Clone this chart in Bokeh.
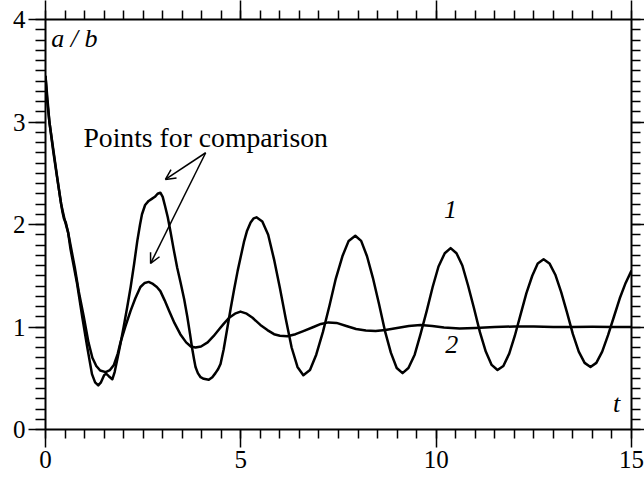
from bokeh.plotting import figure
from bokeh.models import LinearAxis, FixedTicker, Label, Arrow, OpenHead, Range1d
from bokeh.embed import file_html
from bokeh.resources import INLINE

# ---- data ----
t1 = [0, 0.04, 0.1, 0.2, 0.3, 0.38, 0.43, 0.47, 0.52, 0.58,
      0.64, 0.72, 0.81, 0.94, 1.07, 1.19, 1.27, 1.35, 1.42, 1.5,
      1.55, 1.62, 1.71, 1.77, 1.83, 1.92, 2.0, 2.09, 2.18, 2.27,
      2.35, 2.42, 2.47, 2.55, 2.64, 2.72, 2.8, 2.87, 2.94, 3.0,
      3.06, 3.13, 3.2, 3.28, 3.37, 3.46, 3.55, 3.63, 3.7, 3.75,
      3.8, 3.84, 3.9, 3.97, 4.05, 4.18, 4.27, 4.35, 4.42, 4.48,
      4.56, 4.65, 4.74, 4.83, 4.92, 5.0, 5.08, 5.16, 5.25, 5.33,
      5.4, 5.55, 5.7, 5.85, 6.0, 6.15, 6.3, 6.45, 6.6, 6.77,
      6.93, 7.1, 7.27, 7.43, 7.6, 7.76, 7.93, 8.08, 8.23, 8.38,
      8.54, 8.69, 8.84, 8.99, 9.14, 9.29, 9.45, 9.6, 9.76, 9.91,
      10.06, 10.22, 10.37, 10.52, 10.67, 10.82, 10.97, 11.12, 11.27, 11.42,
      11.57, 11.72, 11.87, 12.01, 12.16, 12.31, 12.46, 12.6, 12.75, 12.9,
      13.05, 13.2, 13.35, 13.5, 13.65, 13.8, 13.95, 14.1, 14.25, 14.4,
      14.55, 14.7, 14.85, 15.0]
a1 = [3.45, 3.22, 3.0, 2.73, 2.46, 2.25, 2.13, 2.06, 2.02, 1.92,
      1.76, 1.6, 1.42, 1.10, 0.80, 0.54, 0.46, 0.43, 0.46, 0.53,
      0.545, 0.52, 0.49, 0.56, 0.67, 0.84, 1.0, 1.19, 1.39, 1.62,
      1.84, 2.0, 2.10, 2.19, 2.23, 2.25, 2.27, 2.30, 2.31, 2.27,
      2.18, 2.07, 1.93, 1.76, 1.58, 1.43, 1.27, 1.10, 0.93, 0.80,
      0.69, 0.61, 0.55, 0.51, 0.495, 0.485, 0.51, 0.55, 0.59, 0.64,
      0.78, 0.98, 1.18, 1.37, 1.55, 1.69, 1.83, 1.94, 2.02, 2.06,
      2.07, 2.03, 1.90, 1.66, 1.38, 1.08, 0.80, 0.61, 0.53, 0.58,
      0.73, 0.95, 1.21, 1.47, 1.69, 1.84, 1.89, 1.84, 1.69, 1.48,
      1.22, 0.96, 0.75, 0.60, 0.55, 0.60, 0.73, 0.93, 1.16, 1.39,
      1.59, 1.72, 1.77, 1.72, 1.60, 1.40, 1.18, 0.95, 0.76, 0.63,
      0.58, 0.62, 0.74, 0.91, 1.12, 1.33, 1.50, 1.62, 1.66, 1.62,
      1.51, 1.34, 1.14, 0.93, 0.76, 0.65, 0.61, 0.65, 0.76, 0.92,
      1.10, 1.28, 1.43, 1.55]

t2 = [0, 0.1, 0.2, 0.3, 0.4, 0.5, 0.58, 0.66, 0.75, 0.85,
      0.98, 1.1, 1.2, 1.3, 1.4, 1.54, 1.65, 1.75, 1.85, 1.92,
      2.05, 2.18, 2.3, 2.43, 2.54, 2.64, 2.75, 2.85, 2.94, 3.05,
      3.16, 3.3, 3.45, 3.6, 3.72, 3.84, 3.98, 4.15, 4.3, 4.45,
      4.56, 4.7, 4.85, 4.99, 5.15, 5.3, 5.5, 5.68, 5.85, 6.0,
      6.19, 6.4, 6.6, 6.86, 7.05, 7.24, 7.45, 7.7, 7.95, 8.2,
      8.45, 8.7, 9.0, 9.3, 9.6, 9.9, 10.2, 10.6, 11.0, 11.5,
      12.0, 12.5, 13.0, 13.5, 14.0, 14.5, 15.0]
a2 = [3.45, 3.0, 2.71, 2.45, 2.2, 2.03, 1.92, 1.76, 1.58, 1.35,
      1.10, 0.85, 0.70, 0.62, 0.575, 0.56, 0.58, 0.63, 0.74, 0.85,
      1.01, 1.16, 1.28, 1.39, 1.43, 1.44, 1.42, 1.39, 1.35, 1.26,
      1.16, 1.04, 0.93, 0.85, 0.81, 0.80, 0.81, 0.85, 0.91, 0.98,
      1.03, 1.09, 1.13, 1.15, 1.13, 1.09, 1.02, 0.97, 0.93, 0.915,
      0.91, 0.93, 0.96, 1.0, 1.03, 1.045, 1.04, 1.01, 0.98, 0.965,
      0.96, 0.97, 0.99, 1.01, 1.02, 1.01, 0.995, 0.985, 0.99, 1.0,
      1.005, 1.005, 1.0, 1.0, 1.002, 1.0, 1.0]

x_major = [0, 5, 10, 15]
x_minor = [i * 0.5 for i in range(31)]
y_major = [0, 1, 2, 3, 4]
y_minor = [i * 0.1 for i in range(41)]

FONT = "Liberation Serif"

p = figure(width=644, height=479, x_range=Range1d(0, 15), y_range=Range1d(0, 4),
           output_backend="svg", toolbar_location=None,
           min_border_left=45, min_border_top=19, min_border_right=13, min_border_bottom=50)
p.grid.visible = False
p.outline_line_color = None
p.background_fill_color = "white"
p.border_fill_color = "white"


def style(ax, major_out, minor_out, labels=True):
    ax.axis_line_width = 2
    ax.axis_line_color = "black"
    ax.major_tick_in = 0
    ax.minor_tick_in = 0
    ax.major_tick_out = major_out
    ax.minor_tick_out = minor_out
    ax.major_tick_line_width = 1.5
    ax.minor_tick_line_width = 1.5
    ax.major_tick_line_color = "black"
    ax.minor_tick_line_color = "black"
    ax.major_label_text_font = FONT
    ax.major_label_text_font_size = "25px"
    if labels:
        ax.major_label_text_color = "black"
        ax.major_label_standoff = 3
    else:
        ax.major_label_text_color = None
        ax.major_label_standoff = 0


p.xaxis.ticker = FixedTicker(ticks=x_major, minor_ticks=x_minor)
p.yaxis.ticker = FixedTicker(ticks=y_major, minor_ticks=y_minor)
for ax in p.xaxis:
    style(ax, 18, 9)
for ax in p.yaxis:
    style(ax, 17, 10)

top = LinearAxis(ticker=FixedTicker(ticks=x_major, minor_ticks=x_minor))
style(top, 19, 9, labels=False)
p.add_layout(top, "above")
right = LinearAxis(ticker=FixedTicker(ticks=y_major, minor_ticks=y_minor))
style(right, 13, 9, labels=False)
p.add_layout(right, "right")

p.line(t1, a1, line_color="black", line_width=2.5, line_join="round")
p.line(t2, a2, line_color="black", line_width=2.5, line_join="round")


def lab(x, y, text, size, italic=True, align="left"):
    p.add_layout(Label(x=x, y=y, text=text, text_font=FONT, text_font_size=size,
                       text_font_style="italic" if italic else "normal",
                       text_align=align, text_baseline="alphabetic", text_color="black"))


lab(0.15, 3.81, "a / b", "26px")
lab(14.62, 0.25, "t", "26px", align="center")
lab(10.37, 2.15, "1", "26px", align="center")
lab(10.4, 0.83, "2", "26px", align="center")
lab(0.97, 2.85, "Points for comparison", "27.7px", italic=False)

for xe, ye in [(3.07, 2.44), (2.69, 1.62)]:
    p.add_layout(Arrow(end=OpenHead(size=10, line_width=1.5, line_color="black"),
                       x_start=4.10, y_start=2.70, x_end=xe, y_end=ye,
                       line_width=1.5, line_color="black"))

open("out.html", "w").write(file_html(p, INLINE))
